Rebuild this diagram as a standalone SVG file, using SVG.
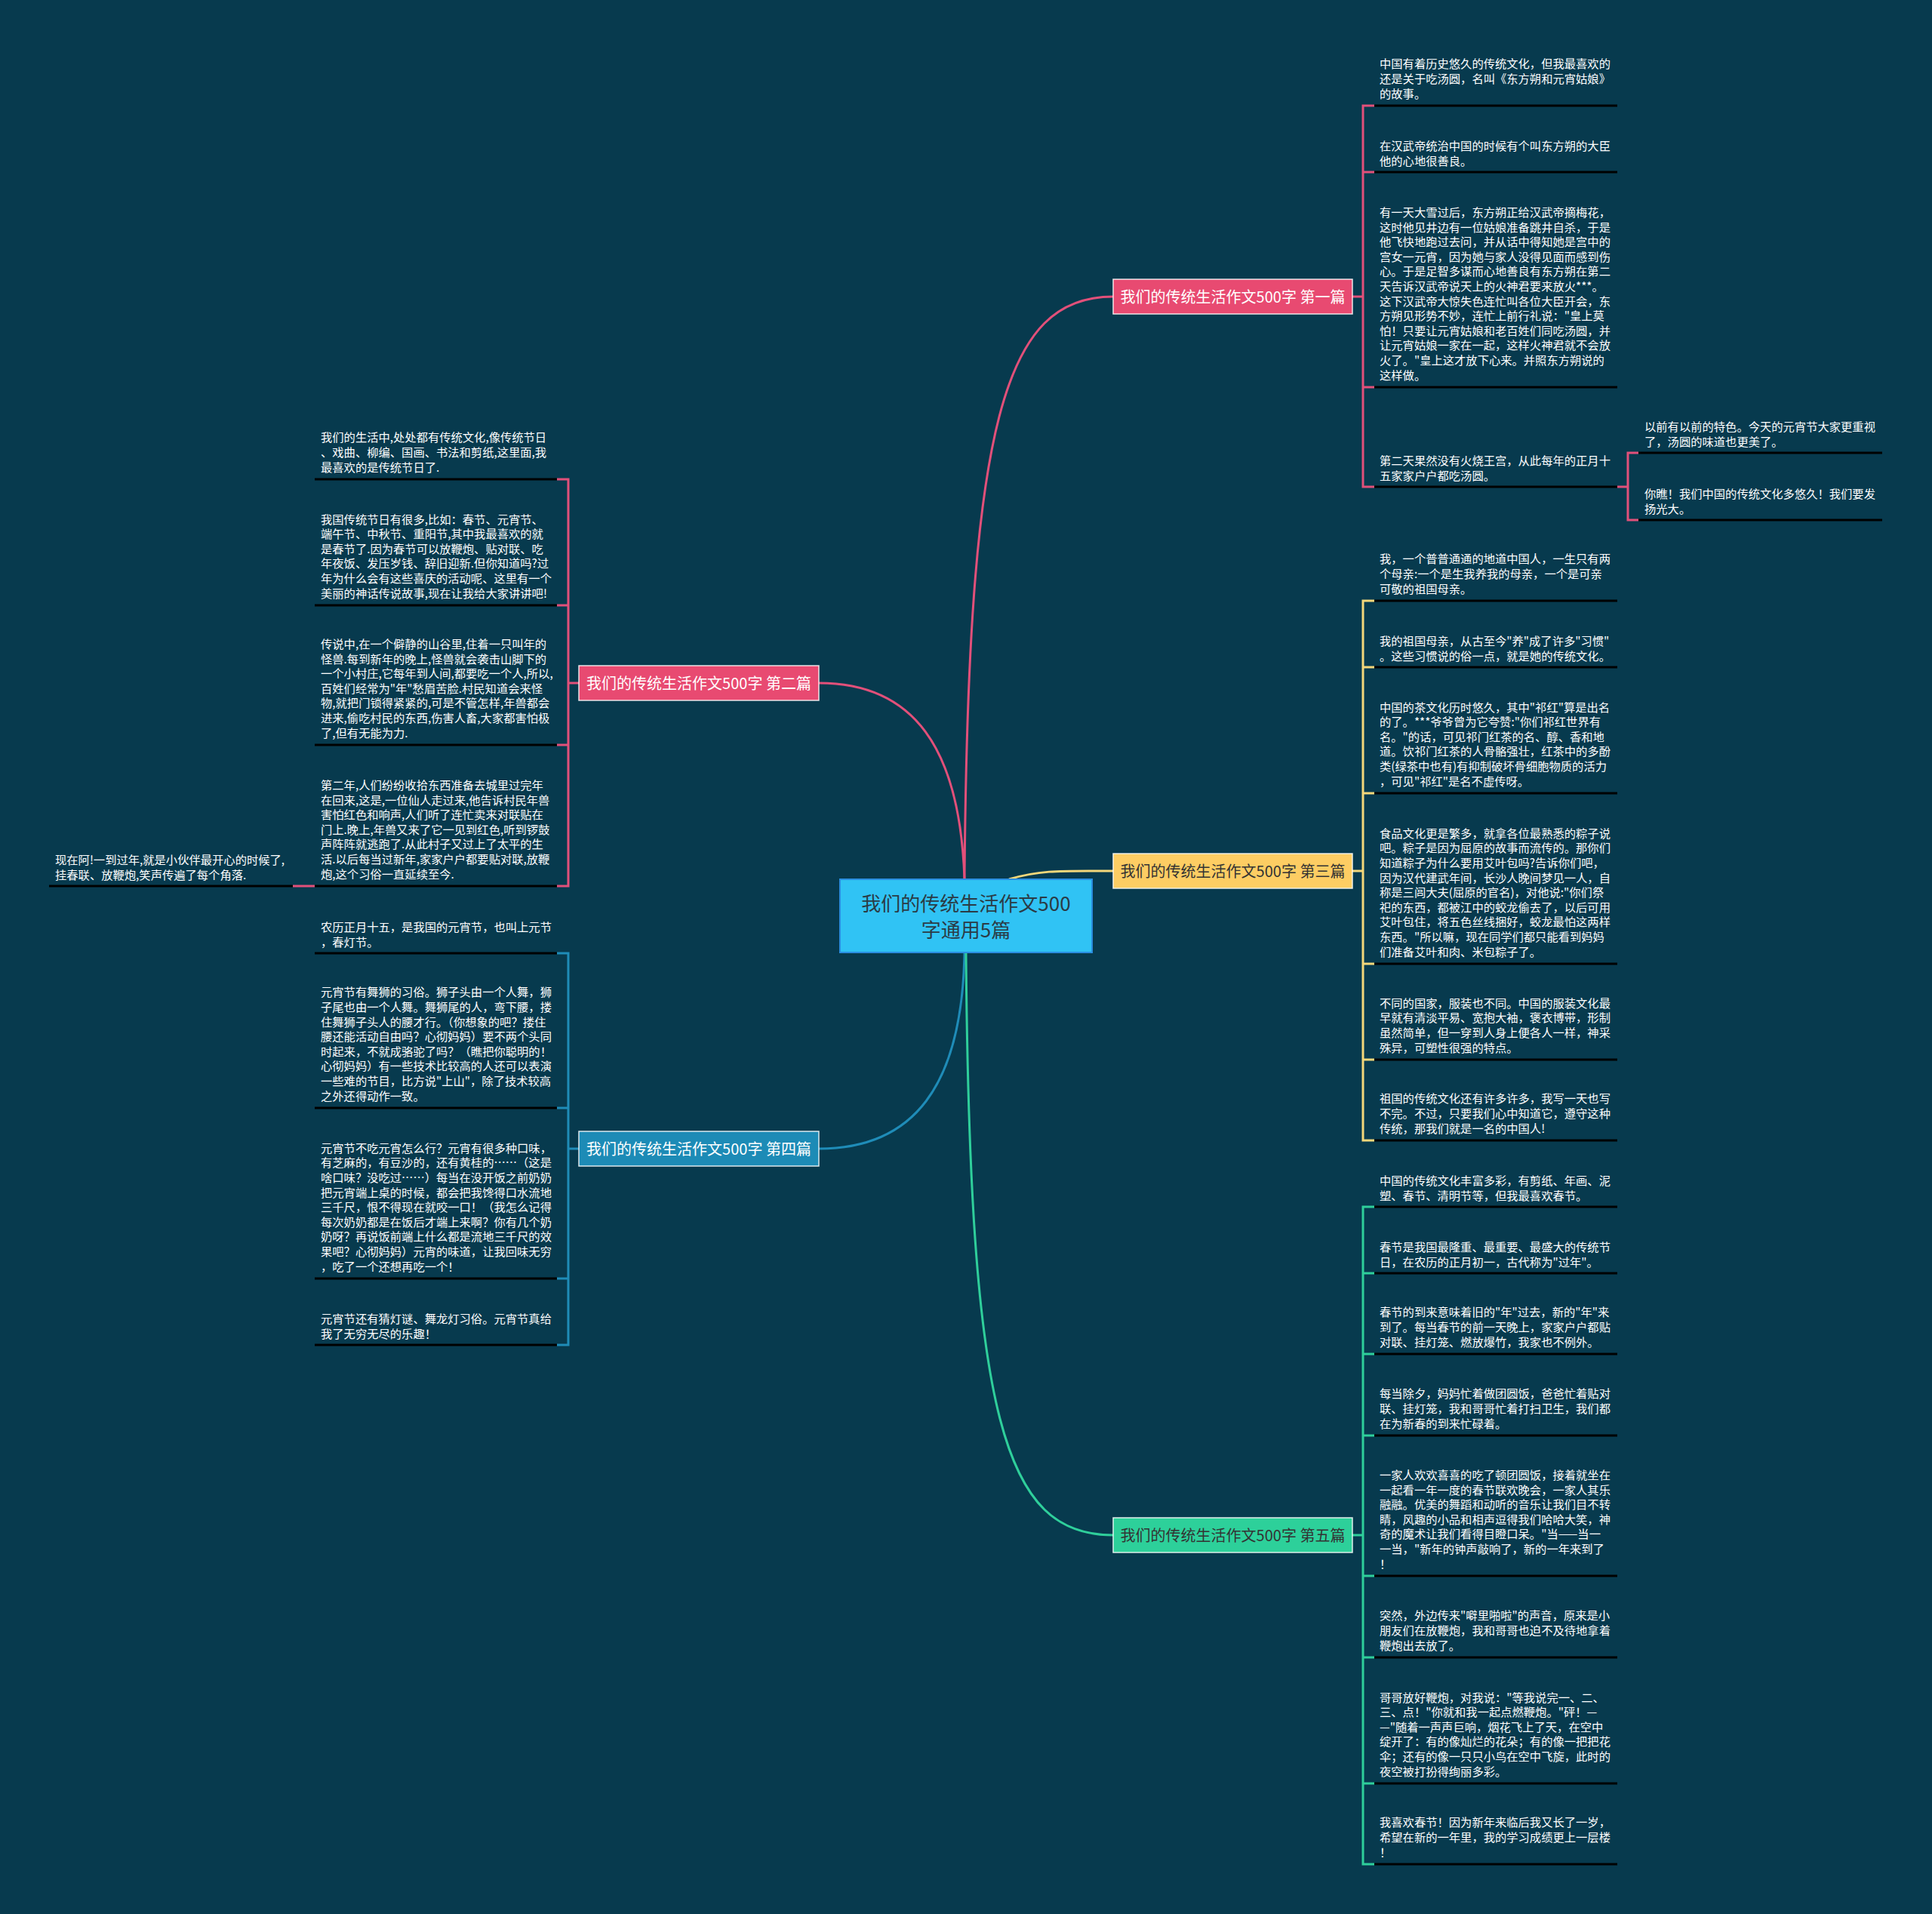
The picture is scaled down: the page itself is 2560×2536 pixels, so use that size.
<svg xmlns="http://www.w3.org/2000/svg" width="2560" height="2536" viewBox="0 0 2560 2536">
<style>
.leaf{font-family:"Noto Sans CJK SC","Noto Sans",sans-serif;font-size:15.3px;fill:#ffffff}
.ul{stroke:#000000;stroke-width:3}
.main{font-family:"Noto Sans CJK SC","Noto Sans",sans-serif;font-size:20px;text-anchor:middle}
.c{fill:none;stroke-width:3}
.pk{stroke:#e2507a}
.yl{stroke:#f4d77a}
.gn{stroke:#2fcf9b}
.bl{stroke:#1f8cb8}
.nb{stroke:#ffffff;stroke-opacity:0.85;stroke-width:1.5}
</style>
<rect width="2560" height="2536" fill="#073a4e"/>

<g id="connectors">
<path class="c pk" d="M1278,1165 C1283,560 1330,393 1475,393"/>
<path class="c pk" d="M1278,1165 C1272,990 1210,905 1085,905"/>
<path class="c yl" d="M1337,1165 C1380,1152 1410,1154 1475,1154"/>
<path class="c bl" d="M1278,1262 C1275,1440 1210,1522 1085,1522"/>
<path class="c gn" d="M1280,1262 C1285,1880 1330,2034 1475,2034"/>
<!-- branch 1 bracket -->
<path class="c pk" d="M1792,393 H1806 M1821,140 H1806 V645 H1821 M1806,228 H1821 M1806,513 H1821"/>
<path class="c pk" d="M2143,645 H2157 M2171,600 H2157 V689 H2171"/>
<!-- branch 3 bracket -->
<path class="c yl" d="M1792,1154 H1806 M1821,796 H1806 V1511 H1821 M1806,884 H1821 M1806,1051 H1821 M1806,1277 H1821 M1806,1404 H1821"/>
<!-- branch 5 bracket -->
<path class="c gn" d="M1792,2034 H1806 M1821,1599 H1806 V2470 H1821 M1806,1687 H1821 M1806,1794 H1821 M1806,1902 H1821 M1806,2088 H1821 M1806,2196 H1821 M1806,2363 H1821"/>
<!-- branch 2 bracket -->
<path class="c pk" d="M767,905 H753 M738,635 H753 V1174 H738 M753,802 H738 M753,987 H738"/>
<path class="c pk" d="M417,1174 H388"/>
<!-- branch 4 bracket -->
<path class="c bl" d="M767,1522 H753 M738,1263 H753 V1782 H738 M753,1468 H738 M753,1694 H738"/>
</g>

<g id="center">
<rect x="1113" y="1165" width="334" height="97" fill="#30c3f4" stroke="#2a8ee0" stroke-width="2"/>
<text x="1280" y="1207" font-family="&quot;Noto Sans CJK SC&quot;,&quot;Noto Sans&quot;,sans-serif" font-size="26" fill="#2b3b45" text-anchor="middle">我们的传统生活作文500</text>
<text x="1280" y="1242" font-family="&quot;Noto Sans CJK SC&quot;,&quot;Noto Sans&quot;,sans-serif" font-size="26" fill="#2b3b45" text-anchor="middle">字通用5篇</text>
</g>

<g id="n1">
<rect class="nb" x="1475" y="370" width="317" height="46" fill="#e84a71"/>
<text class="main" x="1633.5" y="400.5" fill="#ffffff">我们的传统生活作文500字 第一篇</text>
</g>
<g id="n2">
<rect class="nb" x="767" y="882" width="318" height="46" fill="#e84a71"/>
<text class="main" x="926" y="912.5" fill="#ffffff">我们的传统生活作文500字 第二篇</text>
</g>
<g id="n3">
<rect class="nb" x="1475" y="1131" width="317" height="46" fill="#fdcd63"/>
<text class="main" x="1633.5" y="1161.5" fill="#333333">我们的传统生活作文500字 第三篇</text>
</g>
<g id="n4">
<rect class="nb" x="767" y="1499" width="318" height="46" fill="#1d8bb6"/>
<text class="main" x="926" y="1529.5" fill="#ffffff">我们的传统生活作文500字 第四篇</text>
</g>
<g id="n5">
<rect class="nb" x="1475" y="2011" width="317" height="46" fill="#2dd09a"/>
<text class="main" x="1633.5" y="2041.5" fill="#333333">我们的传统生活作文500字 第五篇</text>
</g>

<!-- branch 1 leaves -->
<g id="b1-1">
<text class="leaf" x="1828" y="90.3"><tspan x="1828">中国有着历史悠久的传统文化，但我最喜欢的</tspan><tspan x="1828" dy="19.6">还是关于吃汤圆，名叫《东方朔和元宵姑娘》</tspan><tspan x="1828" dy="19.6">的故事。</tspan></text>
<line class="ul" x1="1821" y1="140" x2="2143" y2="140"/>
</g>
<g id="b1-2">
<text class="leaf" x="1828" y="198.9"><tspan x="1828">在汉武帝统治中国的时候有个叫东方朔的大臣</tspan><tspan x="1828" dy="19.6">他的心地很善良。</tspan></text>
<line class="ul" x1="1821" y1="228" x2="2143" y2="228"/>
</g>
<g id="b1-3">
<text class="leaf" x="1828" y="286.9"><tspan x="1828">有一天大雪过后，东方朔正给汉武帝摘梅花，</tspan><tspan x="1828" dy="19.6">这时他见井边有一位姑娘准备跳井自杀，于是</tspan><tspan x="1828" dy="19.6">他飞快地跑过去问，并从话中得知她是宫中的</tspan><tspan x="1828" dy="19.6">宫女一元宵，因为她与家人没得见面而感到伤</tspan><tspan x="1828" dy="19.6">心。于是足智多谋而心地善良有东方朔在第二</tspan><tspan x="1828" dy="19.6">天告诉汉武帝说天上的火神君要来放火***。</tspan><tspan x="1828" dy="19.6">这下汉武帝大惊失色连忙叫各位大臣开会，东</tspan><tspan x="1828" dy="19.6">方朔见形势不妙，连忙上前行礼说："皇上莫</tspan><tspan x="1828" dy="19.6">怕！只要让元宵姑娘和老百姓们同吃汤圆，并</tspan><tspan x="1828" dy="19.6">让元宵姑娘一家在一起，这样火神君就不会放</tspan><tspan x="1828" dy="19.6">火了。"皇上这才放下心来。并照东方朔说的</tspan><tspan x="1828" dy="19.6">这样做。</tspan></text>
<line class="ul" x1="1821" y1="513" x2="2143" y2="513"/>
</g>
<g id="b1-4">
<text class="leaf" x="1828" y="615.9"><tspan x="1828">第二天果然没有火烧王宫，从此每年的正月十</tspan><tspan x="1828" dy="19.6">五家家户户都吃汤圆。</tspan></text>
<line class="ul" x1="1821" y1="645" x2="2143" y2="645"/>
</g>
<g id="b1-4-1">
<text class="leaf" x="2179" y="570.9"><tspan x="2179">以前有以前的特色。今天的元宵节大家更重视</tspan><tspan x="2179" dy="19.6">了，汤圆的味道也更美了。</tspan></text>
<line class="ul" x1="2171" y1="600" x2="2494" y2="600"/>
</g>
<g id="b1-4-2">
<text class="leaf" x="2179" y="659.9"><tspan x="2179">你瞧！我们中国的传统文化多悠久！我们要发</tspan><tspan x="2179" dy="19.6">扬光大。</tspan></text>
<line class="ul" x1="2171" y1="689" x2="2494" y2="689"/>
</g>

<!-- branch 3 leaves -->
<g id="b3-1">
<text class="leaf" x="1828" y="746.3"><tspan x="1828">我，一个普普通通的地道中国人，一生只有两</tspan><tspan x="1828" dy="19.6">个母亲:一个是生我养我的母亲，一个是可亲</tspan><tspan x="1828" dy="19.6">可敬的祖国母亲。</tspan></text>
<line class="ul" x1="1821" y1="796" x2="2143" y2="796"/>
</g>
<g id="b3-2">
<text class="leaf" x="1828" y="854.9"><tspan x="1828">我的祖国母亲，从古至今"养"成了许多"习惯"</tspan><tspan x="1828" dy="19.6">。这些习惯说的俗一点，就是她的传统文化。</tspan></text>
<line class="ul" x1="1821" y1="884" x2="2143" y2="884"/>
</g>
<g id="b3-3">
<text class="leaf" x="1828" y="942.5"><tspan x="1828">中国的茶文化历时悠久，其中"祁红"算是出名</tspan><tspan x="1828" dy="19.6">的了。***爷爷曾为它夸赞:"你们祁红世界有</tspan><tspan x="1828" dy="19.6">名。"的话，可见祁门红茶的名、醇、香和地</tspan><tspan x="1828" dy="19.6">道。饮祁门红茶的人骨骼强壮，红茶中的多酚</tspan><tspan x="1828" dy="19.6">类(绿茶中也有)有抑制破坏骨细胞物质的活力</tspan><tspan x="1828" dy="19.6">，可见"祁红"是名不虚传呀。</tspan></text>
<line class="ul" x1="1821" y1="1051" x2="2143" y2="1051"/>
</g>
<g id="b3-4">
<text class="leaf" x="1828" y="1109.7"><tspan x="1828">食品文化更是繁多，就拿各位最熟悉的粽子说</tspan><tspan x="1828" dy="19.6">吧。粽子是因为屈原的故事而流传的。那你们</tspan><tspan x="1828" dy="19.6">知道粽子为什么要用艾叶包吗?告诉你们吧，</tspan><tspan x="1828" dy="19.6">因为汉代建武年间，长沙人晚间梦见一人，自</tspan><tspan x="1828" dy="19.6">称是三闾大夫(屈原的官名)，对他说:"你们祭</tspan><tspan x="1828" dy="19.6">祀的东西，都被江中的蛟龙偷去了，以后可用</tspan><tspan x="1828" dy="19.6">艾叶包住，将五色丝线捆好，蛟龙最怕这两样</tspan><tspan x="1828" dy="19.6">东西。"所以嘛，现在同学们都只能看到妈妈</tspan><tspan x="1828" dy="19.6">们准备艾叶和肉、米包粽子了。</tspan></text>
<line class="ul" x1="1821" y1="1277" x2="2143" y2="1277"/>
</g>
<g id="b3-5">
<text class="leaf" x="1828" y="1334.7"><tspan x="1828">不同的国家，服装也不同。中国的服装文化最</tspan><tspan x="1828" dy="19.6">早就有清淡平易、宽抱大袖，褒衣博带，形制</tspan><tspan x="1828" dy="19.6">虽然简单，但一穿到人身上便各人一样，神采</tspan><tspan x="1828" dy="19.6">殊异，可塑性很强的特点。</tspan></text>
<line class="ul" x1="1821" y1="1404" x2="2143" y2="1404"/>
</g>
<g id="b3-6">
<text class="leaf" x="1828" y="1461.3"><tspan x="1828">祖国的传统文化还有许多许多，我写一天也写</tspan><tspan x="1828" dy="19.6">不完。不过，只要我们心中知道它，遵守这种</tspan><tspan x="1828" dy="19.6">传统，那我们就是一名的中国人!</tspan></text>
<line class="ul" x1="1821" y1="1511" x2="2143" y2="1511"/>
</g>

<!-- branch 5 leaves -->
<g id="b5-1">
<text class="leaf" x="1828" y="1569.9"><tspan x="1828">中国的传统文化丰富多彩，有剪纸、年画、泥</tspan><tspan x="1828" dy="19.6">塑、春节、清明节等，但我最喜欢春节。</tspan></text>
<line class="ul" x1="1821" y1="1599" x2="2143" y2="1599"/>
</g>
<g id="b5-2">
<text class="leaf" x="1828" y="1657.9"><tspan x="1828">春节是我国最隆重、最重要、最盛大的传统节</tspan><tspan x="1828" dy="19.6">日，在农历的正月初一，古代称为"过年"。</tspan></text>
<line class="ul" x1="1821" y1="1687" x2="2143" y2="1687"/>
</g>
<g id="b5-3">
<text class="leaf" x="1828" y="1744.3"><tspan x="1828">春节的到来意味着旧的"年"过去，新的"年"来</tspan><tspan x="1828" dy="19.6">到了。每当春节的前一天晚上，家家户户都贴</tspan><tspan x="1828" dy="19.6">对联、挂灯笼、燃放爆竹，我家也不例外。</tspan></text>
<line class="ul" x1="1821" y1="1794" x2="2143" y2="1794"/>
</g>
<g id="b5-4">
<text class="leaf" x="1828" y="1852.3"><tspan x="1828">每当除夕，妈妈忙着做团圆饭，爸爸忙着贴对</tspan><tspan x="1828" dy="19.6">联、挂灯笼，我和哥哥忙着打扫卫生，我们都</tspan><tspan x="1828" dy="19.6">在为新春的到来忙碌着。</tspan></text>
<line class="ul" x1="1821" y1="1902" x2="2143" y2="1902"/>
</g>
<g id="b5-5">
<text class="leaf" x="1828" y="1959.9"><tspan x="1828">一家人欢欢喜喜的吃了顿团圆饭，接着就坐在</tspan><tspan x="1828" dy="19.6">一起看一年一度的春节联欢晚会，一家人其乐</tspan><tspan x="1828" dy="19.6">融融。优美的舞蹈和动听的音乐让我们目不转</tspan><tspan x="1828" dy="19.6">睛，风趣的小品和相声逗得我们哈哈大笑，神</tspan><tspan x="1828" dy="19.6">奇的魔术让我们看得目瞪口呆。"当——当一</tspan><tspan x="1828" dy="19.6">一当，"新年的钟声敲响了，新的一年来到了</tspan><tspan x="1828" dy="19.6">！</tspan></text>
<line class="ul" x1="1821" y1="2088" x2="2143" y2="2088"/>
</g>
<g id="b5-6">
<text class="leaf" x="1828" y="2146.3"><tspan x="1828">突然，外边传来"噼里啪啦"的声音，原来是小</tspan><tspan x="1828" dy="19.6">朋友们在放鞭炮，我和哥哥也迫不及待地拿着</tspan><tspan x="1828" dy="19.6">鞭炮出去放了。</tspan></text>
<line class="ul" x1="1821" y1="2196" x2="2143" y2="2196"/>
</g>
<g id="b5-7">
<text class="leaf" x="1828" y="2254.5"><tspan x="1828">哥哥放好鞭炮，对我说："等我说完一、二、</tspan><tspan x="1828" dy="19.6">三、点！"你就和我一起点燃鞭炮。"砰！—</tspan><tspan x="1828" dy="19.6">—"随着一声声巨响，烟花飞上了天，在空中</tspan><tspan x="1828" dy="19.6">绽开了：有的像灿烂的花朵；有的像一把把花</tspan><tspan x="1828" dy="19.6">伞；还有的像一只只小鸟在空中飞旋，此时的</tspan><tspan x="1828" dy="19.6">夜空被打扮得绚丽多彩。</tspan></text>
<line class="ul" x1="1821" y1="2363" x2="2143" y2="2363"/>
</g>
<g id="b5-8">
<text class="leaf" x="1828" y="2420.3"><tspan x="1828">我喜欢春节！因为新年来临后我又长了一岁，</tspan><tspan x="1828" dy="19.6">希望在新的一年里，我的学习成绩更上一层楼</tspan><tspan x="1828" dy="19.6">！</tspan></text>
<line class="ul" x1="1821" y1="2470" x2="2143" y2="2470"/>
</g>

<!-- branch 2 leaves -->
<g id="b2-1">
<text class="leaf" x="425" y="585.3"><tspan x="425">我们的生活中,处处都有传统文化,像传统节日</tspan><tspan x="425" dy="19.6">、戏曲、柳编、国画、书法和剪纸,这里面,我</tspan><tspan x="425" dy="19.6">最喜欢的是传统节日了.</tspan></text>
<line class="ul" x1="417" y1="635" x2="738" y2="635"/>
</g>
<g id="b2-2">
<text class="leaf" x="425" y="693.5"><tspan x="425">我国传统节日有很多,比如：春节、元宵节、</tspan><tspan x="425" dy="19.6">端午节、中秋节、重阳节,其中我最喜欢的就</tspan><tspan x="425" dy="19.6">是春节了.因为春节可以放鞭炮、贴对联、吃</tspan><tspan x="425" dy="19.6">年夜饭、发压岁钱、辞旧迎新.但你知道吗?过</tspan><tspan x="425" dy="19.6">年为什么会有这些喜庆的活动呢、这里有一个</tspan><tspan x="425" dy="19.6">美丽的神话传说故事,现在让我给大家讲讲吧!</tspan></text>
<line class="ul" x1="417" y1="802" x2="738" y2="802"/>
</g>
<g id="b2-3">
<text class="leaf" x="425" y="858.9"><tspan x="425">传说中,在一个僻静的山谷里,住着一只叫年的</tspan><tspan x="425" dy="19.6">怪兽.每到新年的晚上,怪兽就会袭击山脚下的</tspan><tspan x="425" dy="19.6">一个小村庄,它每年到人间,都要吃一个人,所以,</tspan><tspan x="425" dy="19.6">百姓们经常为"年"愁眉苦脸.村民知道会来怪</tspan><tspan x="425" dy="19.6">物,就把门锁得紧紧的,可是不管怎样,年兽都会</tspan><tspan x="425" dy="19.6">进来,偷吃村民的东西,伤害人畜,大家都害怕极</tspan><tspan x="425" dy="19.6">了,但有无能为力.</tspan></text>
<line class="ul" x1="417" y1="987" x2="738" y2="987"/>
</g>
<g id="b2-4">
<text class="leaf" x="425" y="1045.9"><tspan x="425">第二年,人们纷纷收拾东西准备去城里过完年</tspan><tspan x="425" dy="19.6">在回来,这是,一位仙人走过来,他告诉村民年兽</tspan><tspan x="425" dy="19.6">害怕红色和响声,人们听了连忙卖来对联贴在</tspan><tspan x="425" dy="19.6">门上.晚上,年兽又来了它一见到红色,听到锣鼓</tspan><tspan x="425" dy="19.6">声阵阵就逃跑了.从此村子又过上了太平的生</tspan><tspan x="425" dy="19.6">活.以后每当过新年,家家户户都要贴对联,放鞭</tspan><tspan x="425" dy="19.6">炮,这个习俗一直延续至今.</tspan></text>
<line class="ul" x1="417" y1="1174" x2="738" y2="1174"/>
</g>
<g id="b2-4-1">
<text class="leaf" x="73" y="1144.9"><tspan x="73">现在阿!一到过年,就是小伙伴最开心的时候了,</tspan><tspan x="73" dy="19.6">挂春联、放鞭炮,笑声传遍了每个角落.</tspan></text>
<line class="ul" x1="65" y1="1174" x2="388" y2="1174"/>
</g>

<!-- branch 4 leaves -->
<g id="b4-1">
<text class="leaf" x="425" y="1233.9"><tspan x="425">农历正月十五，是我国的元宵节，也叫上元节</tspan><tspan x="425" dy="19.6">，春灯节。</tspan></text>
<line class="ul" x1="417" y1="1263" x2="738" y2="1263"/>
</g>
<g id="b4-2">
<text class="leaf" x="425" y="1320.3"><tspan x="425">元宵节有舞狮的习俗。狮子头由一个人舞，狮</tspan><tspan x="425" dy="19.6">子尾也由一个人舞。舞狮尾的人，弯下腰，搂</tspan><tspan x="425" dy="19.6">住舞狮子头人的腰才行。（你想象的吧？搂住</tspan><tspan x="425" dy="19.6">腰还能活动自由吗？心彻妈妈）要不两个头同</tspan><tspan x="425" dy="19.6">时起来，不就成骆驼了吗？（瞧把你聪明的！</tspan><tspan x="425" dy="19.6">心彻妈妈）有一些技术比较高的人还可以表演</tspan><tspan x="425" dy="19.6">一些难的节目，比方说"上山"，除了技术较高</tspan><tspan x="425" dy="19.6">之外还得动作一致。</tspan></text>
<line class="ul" x1="417" y1="1468" x2="738" y2="1468"/>
</g>
<g id="b4-3">
<text class="leaf" x="425" y="1526.7"><tspan x="425">元宵节不吃元宵怎么行？元宵有很多种口味，</tspan><tspan x="425" dy="19.6">有芝麻的，有豆沙的，还有黄桂的……（这是</tspan><tspan x="425" dy="19.6">啥口味？没吃过……）每当在没开饭之前奶奶</tspan><tspan x="425" dy="19.6">把元宵端上桌的时候，都会把我馋得口水流地</tspan><tspan x="425" dy="19.6">三千尺，恨不得现在就咬一口！（我怎么记得</tspan><tspan x="425" dy="19.6">每次奶奶都是在饭后才端上来啊？你有几个奶</tspan><tspan x="425" dy="19.6">奶呀？再说饭前端上什么都是流地三千尺的效</tspan><tspan x="425" dy="19.6">果吧？心彻妈妈）元宵的味道，让我回味无穷</tspan><tspan x="425" dy="19.6">，吃了一个还想再吃一个！</tspan></text>
<line class="ul" x1="417" y1="1694" x2="738" y2="1694"/>
</g>
<g id="b4-4">
<text class="leaf" x="425" y="1752.9"><tspan x="425">元宵节还有猜灯谜、舞龙灯习俗。元宵节真给</tspan><tspan x="425" dy="19.6">我了无穷无尽的乐趣！</tspan></text>
<line class="ul" x1="417" y1="1782" x2="738" y2="1782"/>
</g>
</svg>
